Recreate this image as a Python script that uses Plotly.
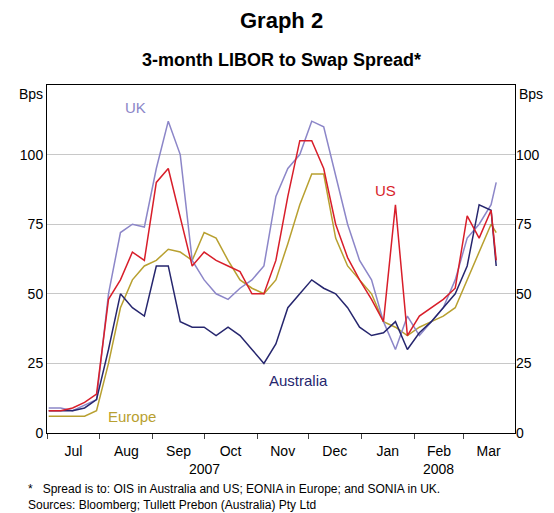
import plotly.graph_objects as go
import pandas as pd

dates = pd.date_range("2007-07-02", "2008-03-17", freq="7D").tolist() + [pd.Timestamp("2008-03-20")]

uk = [9, 9, 8, 10, 12, 50, 72, 75, 74, 95, 112, 100, 62, 55, 50, 48, 52, 55, 60, 85, 95, 100, 112, 110, 92,
      75, 62, 55, 40, 30, 42, 35, 40, 45, 55, 70, 75, 82, 90, 88]
us = [8, 8, 9, 11, 14, 48, 55, 65, 62, 90, 95, 78, 60, 65, 62, 60, 58, 50, 50, 62, 85, 105, 105, 95, 75,
      63, 55, 48, 40, 82, 35, 42, 45, 48, 52, 78, 70, 80, 62, 62]
europe = [6, 6, 6, 6, 8, 25, 45, 55, 60, 62, 66, 65, 62, 72, 70, 62, 55, 52, 50, 55, 68, 82, 93, 93, 70,
          60, 55, 50, 40, 38, 35, 38, 40, 42, 45, 55, 65, 75, 72, 70]
australia = [8, 8, 8, 9, 12, 30, 50, 45, 42, 60, 60, 40, 38, 38, 35, 38, 35, 30, 25, 32, 45, 50, 55, 52, 50,
             45, 38, 35, 36, 40, 30, 36, 40, 45, 50, 60, 82, 80, 60, 52]

series = [("Europe", europe, "#b8a030"), ("UK", uk, "#8c86c8"),
          ("Australia", australia, "#26266e"), ("US", us, "#d81e2a")]

fig = go.Figure()
for name, vals, col in series:
    fig.add_trace(go.Scatter(x=dates, y=vals, mode="lines", name=name,
                             line=dict(color=col, width=1.5), showlegend=False))
fig.add_trace(go.Scatter(x=[dates[0]], y=[None], yaxis="y2", showlegend=False))

# page has an 8px body margin, so targets below are shifted by 8
T, B, L, R = 77, 88, 34, 47
fig.update_layout(
    width=554, height=513, plot_bgcolor="white", paper_bgcolor="white",
    margin=dict(l=L, r=R, t=T, b=B),
    font=dict(family="Arial, Liberation Sans", size=14, color="black"),
    xaxis=dict(range=["2007-07-01", "2008-03-31"], dtick="M1", tickformat="%b",
               ticklabelmode="period", ticks="outside", ticklen=5, showgrid=False,
               showline=True, linecolor="black", mirror=True),
    yaxis=dict(range=[0, 125], tickvals=[0, 25, 50, 75, 100], gridcolor="#c8c8c8",
               showline=True, linecolor="black", mirror=True, zeroline=False),
    yaxis2=dict(range=[0, 125], tickvals=[0, 25, 50, 75, 100], overlaying="y",
                side="right", showgrid=False),
)

ph = 513 - T - B


def py(pix):
    return (513 - B - (pix - 8)) / ph


def note(text, x, y, size=14, xanchor="center", xref="paper", color="black", align="center"):
    fig.add_annotation(text=text, x=x, y=py(y), xref=xref, yref="paper", showarrow=False,
                       xanchor=xanchor, yanchor="middle", align=align,
                       font=dict(size=size, color=color))


note("<b>Graph 2</b>", 0.5, 20, size=22)
note("<b>3-month LIBOR to Swap Spread*</b>", 0.5, 60, size=18)
note("Bps", -0.005, 94, xanchor="right")
note("Bps", 1.005, 94, xanchor="left")
note("2007", "2007-10-01", 469, xref="x")
note("2008", "2008-02-15", 469, xref="x")
note("*   Spread is to: OIS in Australia and US; EONIA in Europe; and SONIA in UK.<br>"
     "Sources: Bloomberg; Tullett Prebon (Australia) Pty Ltd", -0.045, 497, size=12,
     xanchor="left", align="left")

labels = [("UK", "2007-08-22", 117, "#8c86c8"), ("US", "2008-01-15", 87, "#d81e2a"),
          ("Australia", "2007-11-25", 19, "#26266e"), ("Europe", "2007-08-20", 6, "#b8a030")]
for t, x, y, c in labels:
    fig.add_annotation(text=t, x=x, y=y, showarrow=False, font=dict(color=c, size=15))

fig.write_html("out.html")
